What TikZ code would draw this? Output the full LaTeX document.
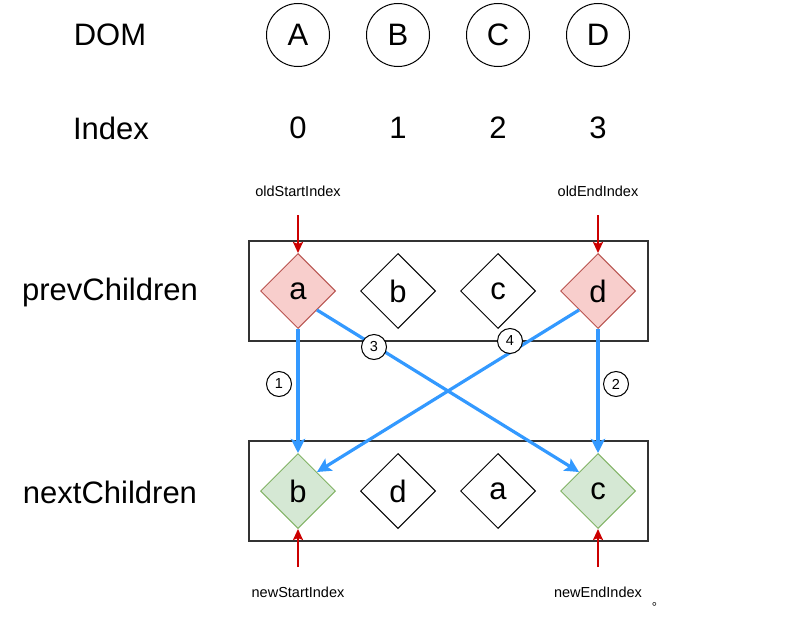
\documentclass[tikz,border=0pt]{standalone}
\usepackage{fontspec}
\setmainfont{Liberation Sans}
\newfontfamily\cjkfont{Noto Sans CJK SC}
\usetikzlibrary{positioning, shapes.geometric, arrows.meta}

\definecolor{redfill}{HTML}{F8CECC}
\definecolor{redline}{HTML}{B85450}
\definecolor{greenfill}{HTML}{D5E8D4}
\definecolor{greenline}{HTML}{82B366}
\definecolor{pointer}{HTML}{CC0000}
\definecolor{move}{HTML}{3399FF}

\tikzset{
    big/.style={font=\fontsize{31}{36}\selectfont},
    small/.style={font=\fontsize{14.5}{17}\selectfont},
    dom/.style={draw, circle, line width=1pt, minimum size=63pt, inner sep=0pt, big},
    vnode/.style={draw, diamond, line width=1pt, minimum size=75pt, inner sep=0pt, big},
    same/.style={vnode, fill=redfill, draw=redline},
    hit/.style={vnode, fill=greenfill, draw=greenline},
    frame/.style={draw=black!80, line width=1.2pt, minimum width=399pt, minimum height=100pt},
    ptr/.style={draw=pointer, line width=2pt, -{Stealth[length=11pt, width=10pt, inset=2pt]}},
    mv/.style={draw=move, line width=3.2pt, -{Stealth[length=14pt, width=14pt, inset=3pt]}},
    step num/.style={draw, circle, fill=white, line width=1pt, minimum size=25pt, inner sep=0pt, small}
}

\begin{document}
\begin{tikzpicture}[x=1pt, y=-1pt]
            \useasboundingbox (0, 0) rectangle (789, 626);

            \node [big] (DOM) at (110, 35) {DOM};
            \node [big] (Index) at (111, 128) {Index};
            \node [big] (prev) at (110, 292) {prevChildren};
            \node [big] (next) at (110, 492) {nextChildren};

            \node [dom] (A) at (298, 35) {A};
            \node [dom] (B) at (398, 35) {B};
            \node [dom] (C) at (498, 35) {C};
            \node [dom] (D) at (598, 35) {D};

            \node [big] (i0) at (298, 128) {0};
            \node [big] (i1) at (398, 128) {1};
            \node [big] (i2) at (498, 128) {2};
            \node [big] (i3) at (598, 128) {3};

            \node [frame] (old) at (448.5, 291) {};
            \node [frame] (new) at (448.5, 491) {};

            \node [same] (pa) at (298, 291) {a};
            \node [vnode] (pb) at (398, 291) {b};
            \node [vnode] (pc) at (498, 291) {c};
            \node [same] (pd) at (598, 291) {d};

            \node [hit] (nb) at (298, 491) {b};
            \node [vnode] (nd) at (398, 491) {d};
            \node [vnode] (na) at (498, 491) {a};
            \node [hit] (nc) at (598, 491) {c};

            \node [small] (os) at (298, 191) {oldStartIndex};
            \node [small] (oe) at (598, 191) {oldEndIndex};
            \node [small] (ns) at (298, 592) {newStartIndex};
            \node [small] (ne) at (598, 592) {newEndIndex};
            \node [font=\cjkfont\fontsize{12}{13}\selectfont] (dot) at (658, 604) {。};

            \coordinate (os end) at (298, 215);
            \coordinate (oe end) at (598, 215);
            \coordinate (ns end) at (298, 567);
            \coordinate (ne end) at (598, 567);

            \draw [ptr] (os end) -- (pa.north);
            \draw [ptr] (oe end) -- (pd.north);
            \draw [ptr] (ns end) -- (nb.south);
            \draw [ptr] (ne end) -- (nc.south);

            \draw [mv] (pa.south) -- (nb.north);
            \draw [mv] (pd.south) -- (nc.north);
            \draw [mv] (pa.south east) -- (nc.north west);
            \draw [mv] (pd.south west) -- (nb.north east);

            \node [step num] (s1) at (279, 384) {1};
            \node [step num] (s2) at (616, 384) {2};
            \node [step num] (s3) at (374, 347) {3};
            \node [step num] (s4) at (510, 341) {4};
        \end{tikzpicture}
\end{document}
